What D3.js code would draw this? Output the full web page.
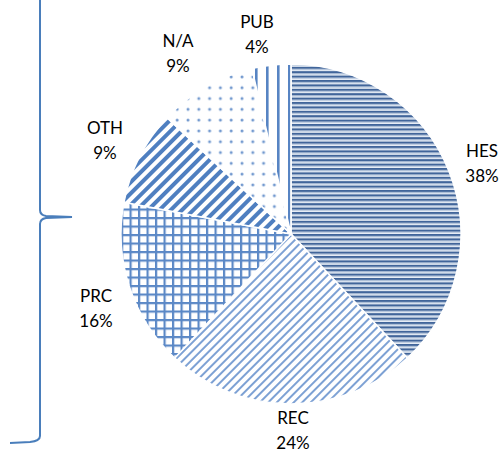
<!DOCTYPE html>
<html><head><meta charset="utf-8">
<script src="https://cdn.jsdelivr.net/npm/d3@7"></script>
<style>html,body{margin:0;padding:0;background:#fff;}svg{display:block;}</style>
</head><body>
<svg id="c" width="504" height="452"></svg>
<script>
const categories = ["HES", "REC", "PRC", "OTH", "N/A", "PUB"];
const values = [38, 24, 16, 9, 9.3, 3.7];
const percentLabels = ["38%", "24%", "16%", "9%", "9%", "4%"];
const patternIds = ["pHES", "pREC", "pPRC", "pOTH", "pNA", "pPUB"];
const labelPositions = [[482, 157], [293, 424], [96, 302], [105, 134], [178, 47], [257, 28]];

const svg = d3.select("#c");
const defs = svg.append("defs");

// HES: horizontal stripes
let p = defs.append("pattern").attr("id", "pHES").attr("patternUnits", "userSpaceOnUse").attr("width", 8).attr("height", 4.4);
p.append("rect").attr("width", 8).attr("height", 4.4).attr("fill", "#c3d1e4");
p.append("rect").attr("y", 0).attr("width", 8).attr("height", 2).attr("fill", "#41659a");
p.append("rect").attr("y", 3.4).attr("width", 8).attr("height", 1).attr("fill", "#e8eef6");

// REC: light downward diagonal
p = defs.append("pattern").attr("id", "pREC").attr("patternUnits", "userSpaceOnUse").attr("width", 6).attr("height", 6).attr("patternTransform", "rotate(45)");
p.append("rect").attr("width", 6).attr("height", 6).attr("fill", "#fff");
p.append("rect").attr("x", 0).attr("width", 2).attr("height", 6).attr("fill", "#7da1d4");

// PRC: grid
p = defs.append("pattern").attr("id", "pPRC").attr("patternUnits", "userSpaceOnUse").attr("width", 8.5).attr("height", 8.5);
p.append("rect").attr("width", 8.5).attr("height", 8.5).attr("fill", "#fff");
p.append("rect").attr("x", 0).attr("width", 2.2).attr("height", 8.5).attr("fill", "#5b88c6");
p.append("rect").attr("y", 0).attr("width", 8.5).attr("height", 2.2).attr("fill", "#5b88c6");

// OTH: wide downward diagonal
p = defs.append("pattern").attr("id", "pOTH").attr("patternUnits", "userSpaceOnUse").attr("width", 8).attr("height", 8).attr("patternTransform", "rotate(45)");
p.append("rect").attr("width", 8).attr("height", 8).attr("fill", "#fff");
p.append("rect").attr("x", 0).attr("width", 4).attr("height", 8).attr("fill", "#4f7fc0");

// N/A: dots
p = defs.append("pattern").attr("id", "pNA").attr("patternUnits", "userSpaceOnUse").attr("width", 10.8).attr("height", 10.8);
p.append("rect").attr("width", 10.8).attr("height", 10.8).attr("fill", "#fff");
p.append("circle").attr("cx", 5).attr("cy", 5).attr("r", 1.5).attr("fill", "#7299cf");

// PUB: vertical lines
p = defs.append("pattern").attr("id", "pPUB").attr("patternUnits", "userSpaceOnUse").attr("width", 11).attr("height", 11).attr("x", 3);
p.append("rect").attr("width", 11).attr("height", 11).attr("fill", "#fff");
p.append("rect").attr("x", 5).attr("width", 2.6).attr("height", 11).attr("fill", "#5784c3");

const cx = 291, cy = 234, r = 170;
const pie = d3.pie().sort(null).value(d => d)(values);
const arc = d3.arc().innerRadius(0).outerRadius(r);

const g = svg.append("g").attr("transform", `translate(${cx},${cy})`);
g.selectAll("path").data(pie).join("path")
  .attr("d", arc)
  .attr("fill", (d, i) => `url(#${patternIds[i]})`)
  .attr("stroke", "#fff")
  .attr("stroke-width", 1.5);

// labels
const lab = svg.append("g").attr("font-family", "Lato, 'Open Sans', sans-serif").attr("font-size", 17).attr("fill", "#000").attr("text-anchor", "middle");
categories.forEach((c, i) => {
  lab.append("text").attr("x", labelPositions[i][0]).attr("y", labelPositions[i][1]).text(c);
  lab.append("text").attr("x", labelPositions[i][0]).attr("y", labelPositions[i][1] + 24.5).text(percentLabels[i]);
});

// brace
svg.append("path")
  .attr("d", "M40,-5 V210 Q40,215 46,216 L72,217 L46,218 Q40,219 40,224 V436 Q40,441 30,442 L10,443")
  .attr("fill", "none").attr("stroke", "#4a7ebb").attr("stroke-width", 2);
</script>
</body></html>
